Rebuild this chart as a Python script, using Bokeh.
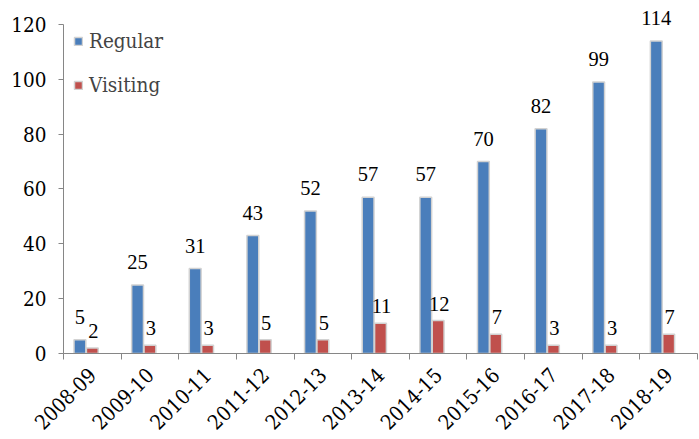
from bokeh.plotting import figure
from bokeh.models import (ColumnDataSource, Range1d, FixedTicker, LabelSet,
                          Legend, LegendItem)
from bokeh.embed import file_html
from bokeh.resources import INLINE
import math

years = ["2008-09", "2009-10", "2010-11", "2011-12", "2012-13", "2013-14",
         "2014-15", "2015-16", "2016-17", "2017-18", "2018-19"]
regular = [5, 25, 31, 43, 52, 57, 57, 70, 82, 99, 114]
visiting = [2, 3, 3, 5, 5, 11, 12, 7, 3, 3, 7]
y_ticks = [0, 20, 40, 60, 80, 100, 120]

FONT = "DejaVu Serif Condensed"
FS = "20.5px"
AXIS = "#868686"

n = len(years)
centers = [i + 0.5 for i in range(n)]
bounds = [float(i) for i in range(n + 1)]

src_r = ColumnDataSource(dict(x=[c - 0.215 for c in centers], top=regular,
                              lbl=[str(v) for v in regular]))
src_v = ColumnDataSource(dict(x=[c + 0.0 for c in centers], top=visiting,
                              lbl=[str(v) for v in visiting]))

p = figure(width=699, height=439, output_backend="svg", toolbar_location=None,
           x_range=Range1d(0, n), y_range=Range1d(0, 128.75),
           min_border_left=63, min_border_right=2, min_border_top=0,
           min_border_bottom=86)
p.outline_line_color = None
p.xgrid.visible = False
p.ygrid.visible = False
p.background_fill_color = "white"

rr = p.vbar(x="x", top="top", width=0.205, source=src_r,
            fill_color="#4a7ebb", line_color="#d2d2d2", line_width=1.5)
rv = p.vbar(x="x", top="top", width=0.205, source=src_v,
            fill_color="#c0504d", line_color="#d2d2d2", line_width=1.5)

lab_r = LabelSet(x="x", y="top", text="lbl", source=src_r, y_offset=16,
                 text_align="center", text_baseline="bottom",
                 text_font=FONT, text_font_size=FS, text_color="black")
lab_v = LabelSet(x="x", y="top", text="lbl", source=src_v, y_offset=10,
                 x_offset=1, text_align="center", text_baseline="bottom",
                 text_font=FONT, text_font_size=FS, text_color="black")
p.add_layout(lab_r)
p.add_layout(lab_v)

# axes
p.yaxis.ticker = FixedTicker(ticks=y_ticks)
p.yaxis.bounds = (0, 120)
p.yaxis.axis_line_color = AXIS
p.yaxis.major_tick_line_color = AXIS
p.yaxis.major_tick_out = 5
p.yaxis.major_tick_in = 0
p.yaxis.minor_tick_line_color = None
p.yaxis.major_label_text_font = FONT
p.yaxis.major_label_text_font_size = FS
p.yaxis.major_label_text_color = "black"
p.yaxis.major_label_standoff = 12

p.xaxis.ticker = FixedTicker(ticks=centers, minor_ticks=bounds)
p.xaxis.major_label_overrides = {c: y for c, y in zip(centers, years)}
p.xaxis.major_tick_line_color = None
p.xaxis.major_tick_out = 0
p.xaxis.minor_tick_line_color = AXIS
p.xaxis.minor_tick_out = 6
p.xaxis.minor_tick_in = 0
p.xaxis.axis_line_color = AXIS
p.xaxis.major_label_orientation = math.pi / 4
p.xaxis.major_label_text_font = FONT
p.xaxis.major_label_text_font_size = FS
p.xaxis.major_label_text_color = "black"
p.xaxis.major_label_standoff = 12

legend = Legend(items=[LegendItem(label="Regular", renderers=[rr]),
                       LegendItem(label="Visiting", renderers=[rv])],
                location=(10, 255), margin=0, padding=0, spacing=17,
                label_height=27, glyph_width=10, glyph_height=10,
                label_standoff=6,
                label_text_font=FONT, label_text_font_size=FS,
                border_line_color=None, background_fill_alpha=0)
p.add_layout(legend)

open("out.html", "w").write(file_html(p, INLINE))
